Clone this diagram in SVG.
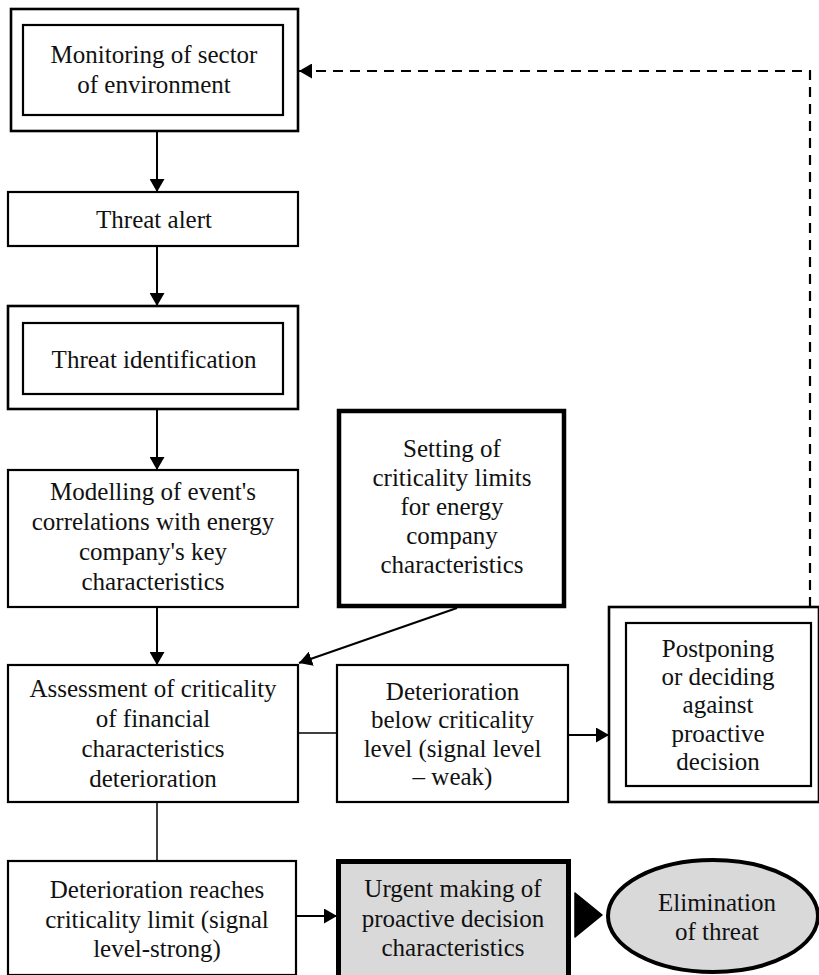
<svg xmlns="http://www.w3.org/2000/svg" width="819" height="975" viewBox="0 0 819 975">
<defs>
<style>
.box{fill:#fff;stroke:#000;stroke-width:2.2}
.thick{fill:#fff;stroke:#000;stroke-width:4.5}
.gray{fill:#d9d9d9;stroke:#000;stroke-width:5}
.t{font-size:25px;fill:#111;text-anchor:middle}
.c{fill:none;stroke:#000;stroke-width:2}
.thin{fill:none;stroke:#000;stroke-width:1.5}
.dash{fill:none;stroke:#000;stroke-width:2.2;stroke-dasharray:10,7}
</style>
<marker id="ah" viewBox="0 0 13 15" refX="13" refY="7.5" markerWidth="13" markerHeight="15" markerUnits="userSpaceOnUse" orient="auto">
<path d="M0,0 L13,7.5 L0,15 z" fill="#000"/>
</marker>
</defs>
<rect width="819" height="975" fill="#fff"/>
<g font-family="'Liberation Serif', 'Times New Roman', 'DejaVu Serif', serif">

<g id="monitoring">
<rect class="box" x="11" y="9" width="287" height="122" style="stroke-width:2.6"/>
<rect class="box" x="23" y="25" width="260" height="90"/>
<text class="t" x="154" y="63">Monitoring of sector</text>
<text class="t" x="154" y="93">of environment</text>
</g>

<g id="threat-alert">
<rect class="box" x="8" y="192" width="290" height="54"/>
<text class="t" x="154" y="228">Threat alert</text>
</g>

<g id="threat-identification">
<rect class="box" x="8" y="306" width="290" height="103" style="stroke-width:2.6"/>
<rect class="box" x="23" y="323" width="260" height="71"/>
<text class="t" x="154" y="368">Threat identification</text>
</g>

<g id="modelling">
<rect class="box" x="8" y="470" width="290" height="137"/>
<text class="t" x="153" y="500">Modelling of event's</text>
<text class="t" x="153" y="530">correlations with energy</text>
<text class="t" x="153" y="560">company's key</text>
<text class="t" x="153" y="590">characteristics</text>
</g>

<g id="setting-limits">
<rect class="thick" x="339" y="411" width="225" height="195"/>
<text class="t" x="452" y="457">Setting of</text>
<text class="t" x="452" y="486">criticality limits</text>
<text class="t" x="452" y="515">for energy</text>
<text class="t" x="452" y="544">company</text>
<text class="t" x="452" y="573">characteristics</text>
</g>

<g id="assessment">
<rect class="box" x="8" y="665" width="290" height="137"/>
<text class="t" x="153" y="697">Assessment of criticality</text>
<text class="t" x="153" y="727">of financial</text>
<text class="t" x="153" y="757">characteristics</text>
<text class="t" x="153" y="787">deterioration</text>
</g>

<g id="deterioration-below">
<rect class="box" x="337" y="665" width="231" height="137"/>
<text class="t" x="452.5" y="700">Deterioration</text>
<text class="t" x="452.5" y="728">below criticality</text>
<text class="t" x="452.5" y="757">level (signal level</text>
<text class="t" x="452.5" y="785">– weak)</text>
</g>

<g id="postponing">
<rect class="box" x="609" y="607" width="210" height="195" style="stroke-width:2.6"/>
<rect class="box" x="626" y="623" width="185" height="163"/>
<text class="t" x="718" y="657">Postponing</text>
<text class="t" x="718" y="685">or deciding</text>
<text class="t" x="718" y="713">against</text>
<text class="t" x="718" y="742">proactive</text>
<text class="t" x="718" y="770">decision</text>
</g>

<g id="deterioration-reaches">
<rect class="box" x="8" y="861" width="288" height="114"/>
<text class="t" x="157" y="898">Deterioration reaches</text>
<text class="t" x="157" y="928">criticality limit (signal</text>
<text class="t" x="157" y="957">level-strong)</text>
</g>

<g id="urgent-decision">
<rect class="gray" x="338.5" y="861.5" width="230" height="116"/>
<text class="t" x="453" y="897">Urgent making of</text>
<text class="t" x="453" y="927">proactive decision</text>
<text class="t" x="453" y="956">characteristics</text>
</g>

<g id="elimination">
<ellipse cx="713" cy="916" rx="105" ry="56" fill="#d9d9d9" stroke="#000" stroke-width="4"/>
<text class="t" x="717" y="911">Elimination</text>
<text class="t" x="717" y="940">of threat</text>
</g>
</g>

<g id="connectors">
<line class="c" x1="157" y1="131" x2="157" y2="192" marker-end="url(#ah)"/>
<line class="c" x1="157" y1="246" x2="157" y2="306" marker-end="url(#ah)"/>
<line class="c" x1="157" y1="409" x2="157" y2="470" marker-end="url(#ah)"/>
<line class="c" x1="157" y1="607" x2="157" y2="665" marker-end="url(#ah)"/>
<line class="c" x1="457" y1="608" x2="299" y2="663" marker-end="url(#ah)"/>
<line class="thin" x1="298" y1="733" x2="337" y2="733"/>
<line class="c" x1="568" y1="735" x2="609" y2="735" marker-end="url(#ah)"/>
<line class="thin" x1="157" y1="802" x2="157" y2="861"/>
<line class="c" x1="296" y1="916" x2="337" y2="916" marker-end="url(#ah)"/>
<path d="M575,893 L602,915 L575,937 z" fill="#000" stroke="#000" stroke-width="1.5" stroke-linejoin="round"/>
<path class="dash" d="M810,607 L810,71 L299,71" marker-end="url(#ah)"/>
</g>
</svg>
